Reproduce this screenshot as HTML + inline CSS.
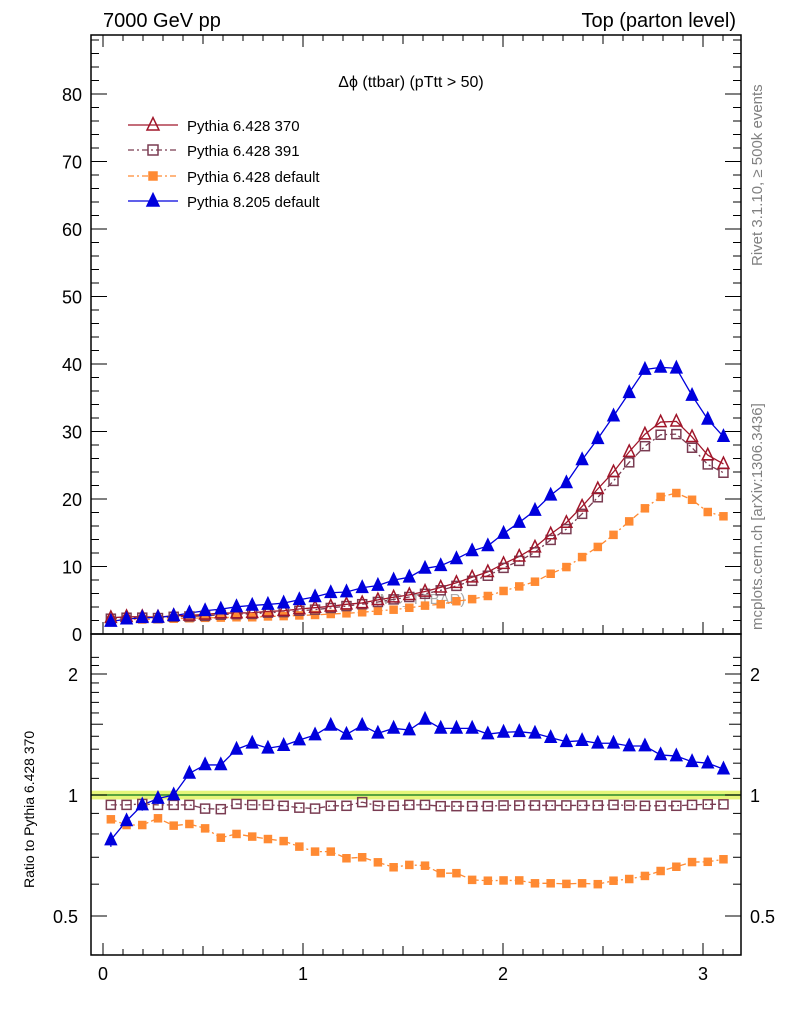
<!DOCTYPE html>
<html><head><meta charset="utf-8"><style>
html,body{margin:0;padding:0;background:#fff;}
svg{display:block;font-family:"Liberation Sans",Arial,sans-serif;}
</style></head><body>
<svg id="chart" width="786" height="1024" viewBox="0 0 786 1024" xmlns="http://www.w3.org/2000/svg">
<text x="103" y="27" font-size="20">7000 GeV pp</text>
<text x="736" y="27" font-size="20" text-anchor="end">Top (parton level)</text>
<text x="411" y="87" font-size="16" text-anchor="middle">Δϕ (ttbar) (pTtt &gt; 50)</text>
<text transform="translate(762,266) rotate(-90)" font-size="15" fill="#808080">Rivet 3.1.10, ≥ 500k events</text>
<text transform="translate(762,630) rotate(-90)" font-size="15" fill="#808080">mcplots.cern.ch [arXiv:1306.3436]</text>
<text transform="translate(34,888) rotate(-90)" font-size="14">Ratio to Pythia 6.428 370</text>
<text x="420" y="604" font-size="15" fill="#aaa" text-anchor="middle">(MC_TTBAR)</text>
<g id="g"></g>
</svg>
<script>
const nBins = 40;
const refValues = [2.4,2.55,2.55,2.5,2.7,2.75,2.9,3.1,3.1,3.15,3.35,3.45,3.7,3.9,4.1,4.4,4.6,5.05,5.45,5.8,6.3,6.9,7.6,8.4,9.2,10.4,11.5,12.85,14.8,16.5,18.9,21.5,24.0,27.0,29.6,31.4,31.5,29.2,26.5,25.2];
const ratio391 = [0.945,0.945,0.95,0.945,0.945,0.945,0.925,0.922,0.95,0.945,0.945,0.94,0.93,0.925,0.94,0.94,0.96,0.94,0.94,0.945,0.945,0.938,0.938,0.938,0.938,0.942,0.942,0.942,0.942,0.942,0.942,0.942,0.945,0.942,0.94,0.94,0.94,0.945,0.948,0.948];
const ratioDefault = [0.87,0.842,0.842,0.875,0.839,0.847,0.826,0.783,0.80,0.788,0.777,0.768,0.744,0.723,0.723,0.696,0.70,0.68,0.661,0.67,0.667,0.639,0.639,0.615,0.612,0.613,0.613,0.603,0.603,0.601,0.603,0.60,0.612,0.618,0.629,0.647,0.663,0.681,0.682,0.692];
const ratioP8 = [0.773,0.862,0.944,0.98,1.0,1.132,1.188,1.188,1.299,1.345,1.307,1.327,1.37,1.41,1.49,1.415,1.49,1.424,1.465,1.451,1.542,1.465,1.465,1.465,1.418,1.432,1.437,1.424,1.389,1.357,1.365,1.345,1.345,1.324,1.324,1.258,1.25,1.21,1.20,1.16];
const p8Err = [0.03,0.03,0.03,0.03,0.03,0.025,0.025,0.025,0.02,0.02,0.02,0.02,0.015,0.015,0.015,0.015,0.015,0.01,0.01,0.01,0.01,0.01,0.01,0.01,0.01,0.01,0.01,0.01,0.01,0.01,0.01,0.01,0.01,0.01,0.01,0.01,0.01,0.01,0.01,0.01];
const mainTicks = [0,10,20,30,40,50,60,70,80];
const ratioTicks = [0.5,1,2];
const xTicks = [0,1,2,3];
const legendLabels = ["Pythia 6.428 370","Pythia 6.428 391","Pythia 6.428 default","Pythia 8.205 default"];

const NS="http://www.w3.org/2000/svg";
const G=document.getElementById('g');
const L=91,R=741,T=35,MB=634,RB=955;
const xs=v=>103+200*v;
const ym=v=>634-6.75*v;
const yr=v=>795-121*Math.log2(v);
function mk(tag,attrs,parent){const e=document.createElementNS(NS,tag);for(const k in attrs)e.setAttribute(k,attrs[k]);(parent||G).appendChild(e);return e;}
const binC=i=>(i+0.5)*Math.PI/nBins;

let b=mk('rect',{x:L,y:yr(1.025),width:R-L,height:yr(0.975)-yr(1.025),fill:'#e6f57a'});


let ln=mk('line',{x1:L,x2:R,y1:yr(1),y2:yr(1),stroke:'#2a8a2a','stroke-width':1.5});



let f1=mk('rect',{x:L,y:T,width:R-L,height:MB-T,fill:'none',stroke:'#000','stroke-width':1.5});


let f2=mk('rect',{x:L,y:MB,width:R-L,height:RB-MB,fill:'none',stroke:'#000','stroke-width':1.5});



for(let k=0;k<=32;k++){const v=k/10;const x=xs(v);if(x>R)break;const len=(k%10==0)?12:(k%5==0?9:6);
 for(const yb of [MB,RB]){let t=mk('line',{x1:x,x2:x,y1:yb,y2:yb-len,stroke:'#000','stroke-width':1});}
 let t2=mk('line',{x1:x,x2:x,y1:T,y2:T+len,stroke:'#000','stroke-width':1});}
xTicks.forEach(v=>{let t=mk('text',{x:xs(v),y:980,'font-size':18,'text-anchor':'middle'});t.textContent=v;});
for(let v=0;v<=88;v+=2){const y=ym(v);const len=v%10==0?16:8;
 let t=mk('line',{x1:L,x2:L+len,y1:y,y2:y,stroke:'#000'});
 let t3=mk('line',{x1:R,x2:R-len,y1:y,y2:y,stroke:'#000'});}
mainTicks.forEach(v=>{let t=mk('text',{x:82,y:ym(v)+7,'font-size':18,'text-anchor':'end'});t.textContent=v;});
for(let k=4;k<=22;k++){const v=k/10;const y=yr(v);if(y<MB||y>RB)continue;const len=(k==5||k==10||k==20)?16:(k==15?12:8);
 let t=mk('line',{x1:L,x2:L+len,y1:y,y2:y,stroke:'#000'});
 let t3=mk('line',{x1:R,x2:R-len,y1:y,y2:y,stroke:'#000'});}
ratioTicks.forEach(v=>{let t=mk('text',{x:78,y:yr(v)+7,'font-size':18,'text-anchor':'end'});t.textContent=v;
 let t2=mk('text',{x:750,y:yr(v)+7,'font-size':18});t2.textContent=v;});

function tri(x,y,s,color,filled,name){let p=mk('polygon',{points:`${x},${y-s*0.62} ${x-s/2},${y+s*0.42} ${x+s/2},${y+s*0.42}`,fill:filled?color:'#fff','fill-opacity':filled?1:0,stroke:color,'stroke-width':1.5});}
function sq(x,y,s,color,filled,name){let p=mk('rect',{x:x-s/2,y:y-s/2,width:s,height:s,fill:filled?color:'none',stroke:color,'stroke-width':1.5});}
function line(pts,color,dash,name){let p=mk('polyline',{points:pts.map(p=>p.join(',')).join(' '),fill:'none',stroke:color,'stroke-width':1.3,'stroke-dasharray':dash||''});}

const c370='#a0162a',c391='#7a3c52',cDef='#ff8a33',cP8='#0000dd';
const v391=refValues.map((v,i)=>v*ratio391[i]);
const vDef=refValues.map((v,i)=>v*ratioDefault[i]);
const vP8=refValues.map((v,i)=>v*ratioP8[i]);
const X=refValues.map((v,i)=>xs(binC(i)));
line(X.map((x,i)=>[x,ym(vDef[i])]),cDef,'6,3,2,3','default-line');
line(X.map((x,i)=>[x,ym(v391[i])]),c391,'6,3,2,3','p391-line');
line(X.map((x,i)=>[x,ym(refValues[i])]),c370,'','p370-line');
line(X.map((x,i)=>[x,ym(vP8[i])]),cP8,'','p8-line');
X.forEach((x,i)=>{sq(x,ym(vDef[i]),7,cDef,true,'default-point');sq(x,ym(v391[i]),9,c391,false,'p391-point');tri(x,ym(refValues[i]),11,c370,false,'p370-point');tri(x,ym(vP8[i]),11,cP8,true,'p8-point');});
line(X.map((x,i)=>[x,yr(ratioDefault[i])]),cDef,'6,3,2,3','default-ratio-line');
line(X.map((x,i)=>[x,yr(ratio391[i])]),c391,'6,3,2,3','p391-ratio-line');
line(X.map((x,i)=>[x,yr(ratioP8[i])]),cP8,'','p8-ratio-line');
X.forEach((x,i)=>{
 let e=mk('line',{x1:x,x2:x,y1:yr(ratioP8[i]+p8Err[i]),y2:yr(ratioP8[i]-p8Err[i]),stroke:cP8,'stroke-width':1.3});
 
 
 sq(x,yr(ratioDefault[i]),7,cDef,true,'default-ratio-point');sq(x,yr(ratio391[i]),9,c391,false,'p391-ratio-point');tri(x,yr(ratioP8[i]),11,cP8,true,'p8-ratio-point');});
const ly=[125,150,176,201];
const lc=[c370,c391,cDef,cP8];
legendLabels.forEach((lab,i)=>{
 let g=mk('g',{});
 
 
 mk('line',{x1:128,x2:178,y1:ly[i],y2:ly[i],stroke:lc[i],'stroke-width':1.3,'stroke-dasharray':(i==1||i==2)?'6,3,2,3':''},g);
 let t=mk('text',{x:187,y:ly[i]+6,'font-size':15},g);t.textContent=lab;
 
 
 if(i==0)tri(153,ly[i],12,c370,false,'legend-marker');
 if(i==1)sq(153,ly[i],10,c391,false,'legend-marker');
 if(i==2)sq(153,ly[i],8,cDef,true,'legend-marker');
 if(i==3)tri(153,ly[i],12,cP8,true,'legend-marker');
});
</script>
</body></html>
